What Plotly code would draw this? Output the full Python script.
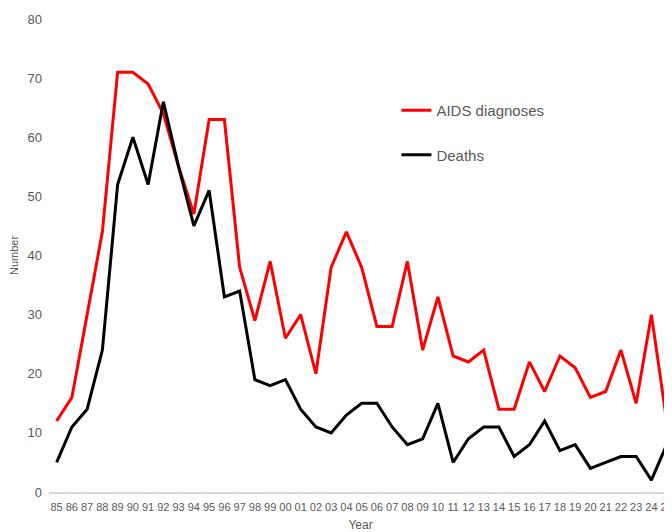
import plotly.graph_objects as go

years = ["85","86","87","88","89","90","91","92","93","94","95","96","97","98","99",
         "00","01","02","03","04","05","06","07","08","09","10","11","12","13","14",
         "15","16","17","18","19","20","21","22","23","24","25"]
aids = [12,16,30,44,71,71,69,64,55,47,63,63,38,29,39,
        26,30,20,38,44,38,28,28,39,24,33,23,22,24,14,
        14,22,17,23,21,16,17,24,15,30,12]
deaths = [5,11,14,24,52,60,52,66,55,45,51,33,34,19,18,
          19,14,11,10,13,15,15,11,8,9,15,5,9,11,11,
          6,8,12,7,8,4,5,6,6,2,8]
y_ticks = [0,10,20,30,40,50,60,70,80]

xs = list(range(len(years)))
font = "Liberation Sans Narrow, Arial Narrow, Liberation Sans, sans-serif"
gray = "#595959"

fig = go.Figure()
fig.add_trace(go.Scatter(x=xs, y=aids, mode="lines", name="AIDS diagnoses",
                         line=dict(color="#ff0000", width=3), legendgroup="a"))
fig.add_trace(go.Scatter(x=xs, y=deaths, mode="lines", name="Deaths",
                         line=dict(color="#000000", width=3), legendgroup="b"))

H = 524
fig.update_layout(
    width=664, height=H,
    margin=dict(l=41, r=0, t=11, b=40, autoexpand=False),
    plot_bgcolor="white", paper_bgcolor="white",
    font=dict(family=font, color=gray),
    showlegend=True,
    legend=dict(xref="container", yref="container", x=0.585, y=1 - 124.5 / H,
                xanchor="left", yanchor="middle",
                font=dict(size=15, color=gray, family=font),
                bgcolor="rgba(0,0,0,0)", tracegroupgap=22, itemwidth=30),
    xaxis=dict(range=[-0.5, 40.35], tickmode="array", tickvals=xs, ticktext=years,
               tickfont=dict(size=11, color=gray), showgrid=False, zeroline=False,
               showline=True, linecolor="#d9d9d9", linewidth=1.5, ticks="",
               ticklabelstandoff=4, ticklabeloverflow="allow", automargin=False,
               title=dict(text="Year", font=dict(size=12, color=gray), standoff=11)),
    yaxis=dict(range=[0, 80], tickvals=y_ticks, tickfont=dict(size=13, color=gray),
               showgrid=False, zeroline=False, showline=False, ticks="",
               ticklabelstandoff=6, automargin=False,
               title=dict(text="Number", font=dict(size=11, color=gray), standoff=8)),
)

fig.write_html("out.html")
